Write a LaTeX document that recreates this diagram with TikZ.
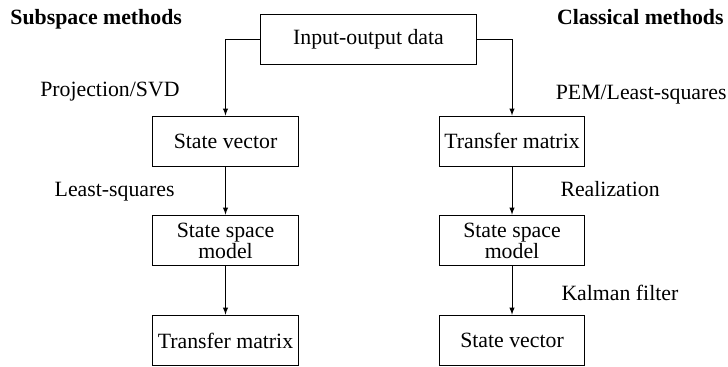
\documentclass[tikz,border=0pt]{standalone}
\usepackage{fontspec}
\setmainfont{Liberation Serif}
\usepackage{tikz}
\usetikzlibrary{arrows}
\usetikzlibrary{positioning}

\begin{document}
\begin{tikzpicture}[x=0.025cm, y=-0.025cm, line width=0.7pt,
  font=\fontsize{15.5}{15}\selectfont,
  box/.style={rectangle, draw=black, inner sep=0pt, align=center},
  lbl/.style={inner sep=0pt}]
\useasboundingbox (0,0) rectangle (728,367);
\node [box, minimum width=5.4cm, minimum height=1.23cm] (inp) at (368.5, 39.5) {Input-output data};
\node [box, minimum width=3.63cm, minimum height=1.25cm] (sv1) at (225.5, 141) {State vector};
\node [box, minimum width=3.63cm, minimum height=1.27cm] (ssm1) at (225.5, 240.5) {State space\\model};
\node [box, minimum width=3.63cm, minimum height=1.27cm] (tm1) at (225.5, 340.5) {Transfer matrix};
\node [box, minimum width=3.63cm, minimum height=1.25cm] (tm2) at (512, 141) {Transfer matrix};
\node [box, minimum width=3.63cm, minimum height=1.27cm] (ssm2) at (512, 240.5) {State space\\model};
\node [box, minimum width=3.63cm, minimum height=1.27cm] (sv2) at (512, 340.5) {State vector};
\node [lbl, anchor=base west, font=\fontsize{15.5}{15}\selectfont\bfseries] (subsp) at (10, 25) {Subspace methods};
\node [lbl, anchor=base east, font=\fontsize{15.5}{15}\selectfont\bfseries] (classic) at (724, 25) {Classical methods};
\node [lbl, anchor=base east] (proj) at (180, 97) {Projection/SVD};
\node [lbl, anchor=base east] (lsq) at (175, 196) {Least-squares};
\node [lbl, anchor=base east] (pem) at (727, 100) {PEM/Least-squares};
\node [lbl, anchor=base west] (real) at (560, 196) {Realization};
\node [lbl, anchor=base west] (kal) at (561, 300) {Kalman filter};
\draw [-latex] (inp.west) -| (sv1.north);
\draw [-latex] (inp.east) -| (tm2.north);
\draw [-latex] (sv1) to (ssm1);
\draw [-latex] (ssm1) to (tm1);
\draw [-latex] (tm2) to (ssm2);
\draw [-latex] (ssm2) to (sv2);
\end{tikzpicture}
\end{document}
